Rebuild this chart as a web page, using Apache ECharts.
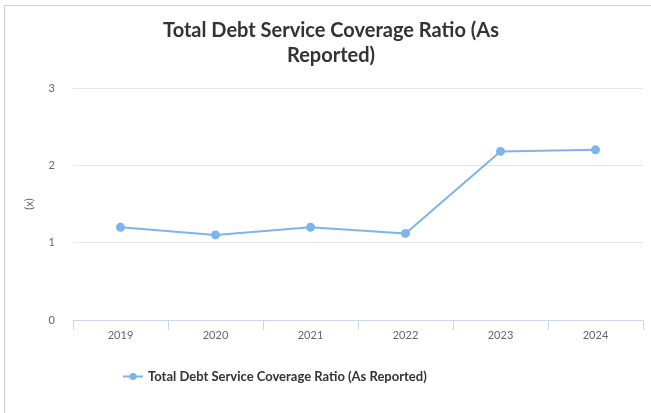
<!DOCTYPE html>
<html>
<head>
<meta charset="utf-8">
<script src="https://cdn.jsdelivr.net/npm/echarts@6/dist/echarts.min.js"></script>
<style>
html,body{margin:0;padding:0;background:#fff;overflow:hidden;}
#frame{position:absolute;left:4px;top:5px;width:700px;height:500px;border:1px solid #cccccc;box-sizing:border-box;}
#chart{position:absolute;left:0;top:0;width:651px;height:413px;}
</style>
</head>
<body>
<div id="frame"></div>
<div id="chart"></div>
<script>
const titleText = "Total Debt Service Coverage Ratio (As\nReported)";
const categories = ["2019", "2020", "2021", "2022", "2023", "2024"];
const seriesName = "Total Debt Service Coverage Ratio (As Reported)";
const values = [1.20, 1.10, 1.20, 1.12, 2.18, 2.20];
const yTicks = [0, 1, 2, 3];
const yAxisName = "(x)";

const chart = echarts.init(document.getElementById('chart'), null, {renderer: 'canvas'});
chart.setOption({
  animation: false,
  backgroundColor: 'transparent',
  title: {
    text: titleText,
    left: 326,
    textAlign: 'center',
    top: 13,
    textStyle: {fontFamily: 'Lato', fontSize: 20, fontWeight: 'bold', color: '#333333', lineHeight: 25}
  },
  grid: {left: 73, right: 8, top: 88, bottom: 93},
  legend: {
    left: 117, top: 365,
    itemWidth: 20, itemHeight: 9, itemGap: 10,
    textStyle: {fontFamily: 'Lato', fontSize: 13, fontWeight: 'bold', color: '#333333'},
    data: [seriesName]
  },
  xAxis: {
    type: 'category',
    data: categories,
    boundaryGap: true,
    axisLine: {lineStyle: {color: '#ccd6eb', width: 1}},
    axisTick: {show: true, length: 10, lineStyle: {color: '#ccd6eb'}},
    axisLabel: {fontFamily: 'Lato', fontSize: 11, color: '#666666', margin: 10}
  },
  yAxis: {
    type: 'value',
    min: yTicks[0], max: yTicks[yTicks.length - 1], interval: 1,
    name: yAxisName,
    nameLocation: 'middle',
    nameGap: 38,
    nameTextStyle: {fontFamily: 'Lato', fontSize: 11, color: '#666666'},
    axisLine: {show: false},
    axisTick: {show: false},
    axisLabel: {fontFamily: 'Lato', fontSize: 11, color: '#666666', margin: 18},
    splitLine: {lineStyle: {color: '#e6e6e6', width: 1}}
  },
  series: [{
    name: seriesName,
    type: 'line',
    data: values,
    color: '#7cb5ec',
    symbol: 'circle',
    symbolSize: 9,
    lineStyle: {width: 2, color: '#7cb5ec'},
    itemStyle: {color: '#7cb5ec'}
  }]
});
</script>
</body>
</html>
